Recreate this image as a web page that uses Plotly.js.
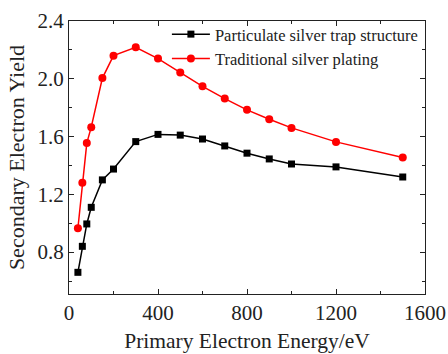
<!DOCTYPE html>
<html>
<head>
<meta charset="utf-8">
<script src="https://cdn.plot.ly/plotly-3.0.1.min.js"></script>
<style>html,body{margin:0;padding:0;background:#fff;}#chart{width:448px;height:354px;}</style>
</head>
<body>
<div id="chart"></div>
<script>
var energy = [40, 60, 80, 100, 150, 200, 300, 400, 500, 600, 700, 800, 900, 1000, 1200, 1500];
var trapYield = [0.66, 0.84, 0.995, 1.11, 1.30, 1.375, 1.565, 1.615, 1.61, 1.583, 1.535, 1.485, 1.445, 1.41, 1.39, 1.32];
var platingYield = [0.965, 1.28, 1.555, 1.665, 2.005, 2.16, 2.218, 2.14, 2.043, 1.948, 1.863, 1.785, 1.72, 1.66, 1.563, 1.455];
var seriesNames = ["Particulate silver trap structure", "Traditional silver plating"];
var xTicks = [0, 400, 800, 1200, 1600];
var yTicks = [0.8, 1.2, 1.6, 2.0, 2.4];

var font = "Liberation Serif, Times New Roman, serif";
var traces = [
  {x: energy, y: trapYield, name: seriesNames[0], mode: "lines+markers", type: "scatter",
   line: {color: "#000000", width: 1.5}, marker: {symbol: "square", size: 7, color: "#000000"}},
  {x: energy, y: platingYield, name: seriesNames[1], mode: "lines+markers", type: "scatter",
   line: {color: "#ff0000", width: 1.5}, marker: {symbol: "circle", size: 8, color: "#ff0000"}}
];
var axisCommon = {
  showline: true, linecolor: "#222", linewidth: 1, mirror: "ticks",
  ticks: "inside", ticklen: 5, tickwidth: 1, tickcolor: "#222",
  showgrid: false, zeroline: false,
  tickfont: {family: font, size: 21, color: "#222"}
};
var layout = {
  width: 448, height: 354,
  margin: {l: 69, r: 23, t: 21, b: 60},
  paper_bgcolor: "#fff", plot_bgcolor: "#fff",
  showlegend: true,
  legend: {x: 0.275, y: 1.015, xanchor: "left", yanchor: "top", bgcolor: "rgba(0,0,0,0)",
           font: {family: font, size: 16.5, color: "#222"}, tracegroupgap: 0, itemwidth: 38},
  xaxis: Object.assign({}, axisCommon, {
    range: [0, 1600], tickvals: xTicks, ticktext: xTicks.map(String),
    minor: {dtick: 200, tick0: 0, ticks: "inside", ticklen: 3, tickcolor: "#222"},
    title: {text: "Primary Electron Energy/eV", font: {family: font, size: 21.5, color: "#222"}, standoff: 8}
  }),
  yaxis: Object.assign({}, axisCommon, {
    range: [0.51, 2.4], tickvals: yTicks, ticktext: yTicks.map(function(v){return v.toFixed(1);}),
    minor: {dtick: 0.2, tick0: 0.6, ticks: "inside", ticklen: 3, tickcolor: "#222"},
    title: {text: "Secondary Electron Yield", font: {family: font, size: 22, color: "#222"}, standoff: 6}
  })
};
Plotly.newPlot("chart", traces, layout, {displayModeBar: false, staticPlot: true});
</script>
</body>
</html>
